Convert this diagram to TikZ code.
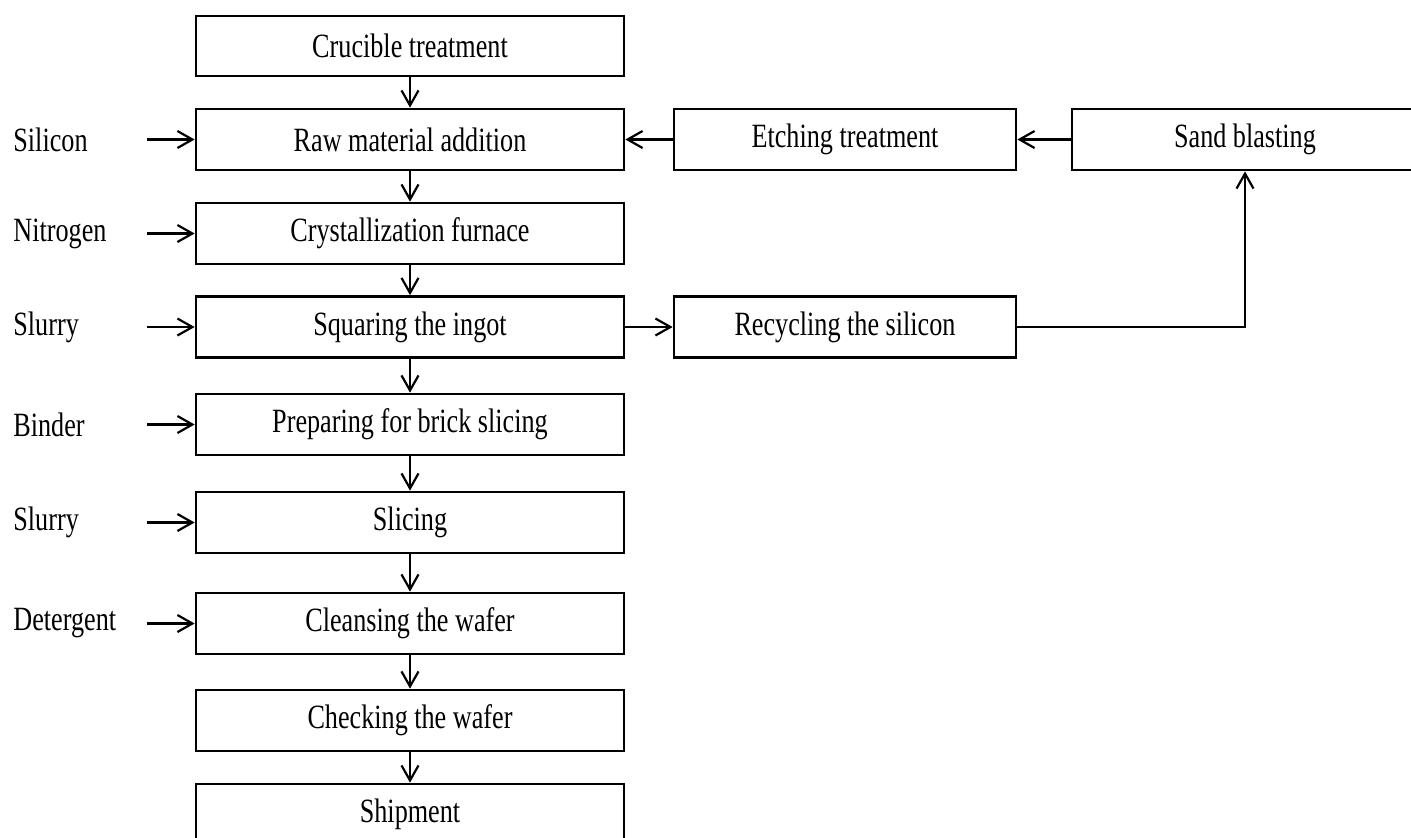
\documentclass[tikz,border=0pt]{standalone}
\usepackage{fontspec}
\setmainfont{Liberation Serif}[FakeStretch=0.77]
\usetikzlibrary{arrows.meta}
\begin{document}
\begin{tikzpicture}[x=0.5pt,y=-0.5pt,
  txt/.style={font=\fontsize{17}{20}\selectfont},
  box/.style={draw, line width=1.35pt, minimum height=30.5pt, inner sep=0pt, txt},
  mainbox/.style={box, minimum width=214pt},
  sidebox/.style={box, minimum width=171pt},
  lbl/.style={anchor=west, inner sep=0pt, txt},
  arr/.style={line width=1.2pt, -{Straight Barb[length=7.5pt,width=8.5pt,line width=1.1pt]}}]
\useasboundingbox (0,0) rectangle (1411,837);
\clip (0,0) rectangle (1411,837);
% main column
\node[mainbox, minimum height=30pt] (c1) at (410,46) {Crucible treatment};
\node[mainbox] (c2) at (410,139.5) {Raw material addition};
\node[mainbox] (c3) at (410,233.5) {Crystallization furnace};
\node[mainbox] (c4) at (410,327) {Squaring the ingot};
\node[mainbox] (c5) at (410,424.5) {Preparing for brick slicing};
\node[mainbox] (c6) at (410,522.5) {Slicing};
\node[mainbox] (c7) at (410,623.5) {Cleansing the wafer};
\node[mainbox] (c8) at (410,720.5) {Checking the wafer};
\node[mainbox] (c9) at (410,814.5) {Shipment};
% side boxes
\node[sidebox] (etch) at (845,139.5) {Etching treatment};
\node[box, minimum width=173pt] (sand) at (1245,139.5) {Sand blasting};
\node[sidebox] (rec) at (845,327) {Recycling the silicon};
% inputs
\node[lbl] (l2) at (13,139.5) {Silicon};
\node[lbl] (l3) at (13,233.5) {Nitrogen};
\node[lbl] (l4) at (13,327) {Slurry};
\node[lbl] (l5) at (13,424.5) {Binder};
\node[lbl] (l6) at (13,522.5) {Slurry};
\node[lbl] (l7) at (13,623.5) {Detergent};
\coordinate (s2) at (147,139.5);
\coordinate (s3) at (147,233.5);
\coordinate (s4) at (147,327);
\coordinate (s5) at (147,424.5);
\coordinate (s6) at (147,522.5);
\coordinate (s7) at (147,623.5);
\foreach \i in {2,...,7} \draw[arr] (s\i) -- (c\i.west);
% main flow
\draw[arr] (c1) -- (c2);
\draw[arr] (c2) -- (c3);
\draw[arr] (c3) -- (c4);
\draw[arr] (c4) -- (c5);
\draw[arr] (c5) -- (c6);
\draw[arr] (c6) -- (c7);
\draw[arr] (c7) -- (c8);
\draw[arr] (c8) -- (c9);
% recycling loop
\draw[arr] (c4) -- (rec);
\draw[arr] (rec.east) -| (sand.south);
\draw[arr] (sand) -- (etch);
\draw[arr] (etch) -- (c2);
\end{tikzpicture}
\end{document}
